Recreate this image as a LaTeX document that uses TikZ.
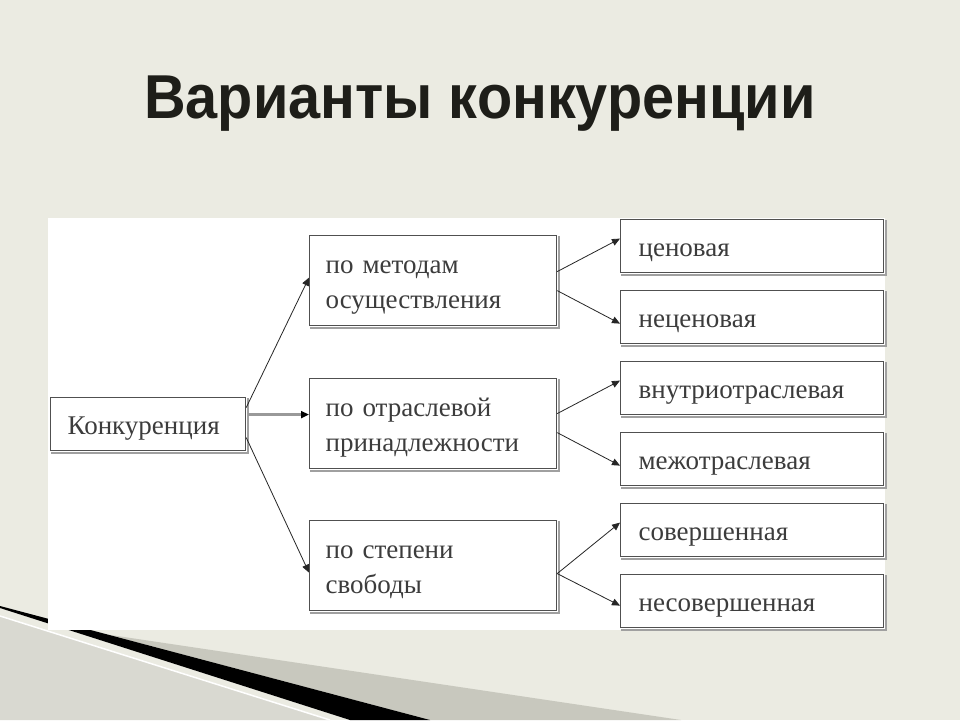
\documentclass[tikz,border=0pt]{standalone}
\usepackage{fontspec}
\usepackage{graphicx}
\setmainfont{Liberation Serif}
\newfontfamily\titlefont{Liberation Sans}
\usetikzlibrary{arrows.meta}
\definecolor{bgc}{HTML}{EBEBE2}
\definecolor{lightwedge}{HTML}{D9D9D1}
\definecolor{graywedge}{HTML}{C8C8BE}
\definecolor{titlec}{HTML}{1E1E19}
\definecolor{boxline}{HTML}{505050}
\definecolor{boxshadow}{HTML}{A0A0A0}
\definecolor{txt}{HTML}{3C3C3C}
\tikzset{
  box/.style={draw=boxline, line width=1.2pt, fill=white, inner ysep=0pt,
    font=\fontsize{27}{35}\selectfont, text=txt, align=left, anchor=north west,
    execute at begin node={\rule{0pt}{28pt}},
    execute at end node={\rule[-8pt]{0pt}{8pt}}},
  rbox/.style={box, minimum width=263pt, minimum height=53pt, inner xsep=18pt, text width=227pt},
  mbox/.style={box, minimum width=247pt, minimum height=90pt, inner xsep=16pt, text width=215pt},
  kbox/.style={box, minimum width=195pt, minimum height=53pt, inner xsep=17pt, text width=161pt},
  shadowline/.style={draw=boxshadow, line width=2.5pt},
  conn/.style={draw=black!85, line width=0.8pt, -{Triangle[length=8pt,width=7pt]}},
  thickconn/.style={draw=black!40, line width=2.5pt, -{Triangle[length=8pt,width=7pt,color=black,fill=black]}}
}
\begin{document}
\begin{tikzpicture}[x=1pt,y=-1pt]
\useasboundingbox (0,0) rectangle (960,720);
\fill[bgc] (0,0) rectangle (960,720);
% decoration bottom-left
\fill[lightwedge] (0,616) -- (330,720) -- (0,720) -- cycle;
\draw[white, line width=1.5pt] (0,616) -- (330,720);
\fill[graywedge] (108,634.6) -- (681,720) -- (430,720) -- cycle;
\fill[black] (0,606) -- (430,720) -- (350,720) -- (0,608) -- cycle;
% white panel
\fill[white] (48,218) rectangle (885,630);
% title
\node[font=\titlefont\bfseries\fontsize{62}{62}\selectfont, text=titlec, anchor=base] (title) at (480,118) {\scalebox{0.93}[1]{Варианты конкуренции}};
% boxes
\node[kbox] (k) at (50,397) {Конкуренция};
\node[mbox] (m1) at (309,235) {по методам\\осуществления};
\node[mbox] (m2) at (309,378) {по отраслевой\\принадлежности};
\node[mbox] (m3) at (309,520) {по степени\\свободы};
\node[rbox] (r1) at (620,219) {ценовая};
\node[rbox] (r2) at (620,290) {неценовая};
\node[rbox] (r3) at (620,361) {внутриотраслевая};
\node[rbox] (r4) at (620,432) {межотраслевая};
\node[rbox] (r5) at (620,503) {совершенная};
\node[rbox] (r6) at (620,574) {несовершенная};
\foreach \n in {k,m1,m2,m3,r1,r2,r3,r4,r5,r6}{
  \draw[shadowline] ([xshift=1pt,yshift=-1.6pt]\n.south west) -- ([xshift=1.6pt,yshift=-1.6pt]\n.south east) -- ([xshift=1.6pt,yshift=-1pt]\n.north east);
}
% connectors
\draw[conn] ([yshift=16.5pt]k.east) -- ([yshift=3pt]m1.west);
\draw[thickconn] ([xshift=2pt,yshift=9.5pt]k.east) -- ([yshift=9pt]m2.west);
\draw[conn] ([yshift=-13.5pt]k.east) -- ([yshift=-7pt]m3.west);
\draw[conn] ([yshift=9pt]m1.east) -- ([yshift=7.5pt]r1.west);
\draw[conn] ([yshift=-10pt]m1.east) -- ([yshift=-6.5pt]r2.west);
\draw[conn] ([yshift=10pt]m2.east) -- ([yshift=7.5pt]r3.west);
\draw[conn] ([yshift=-9pt]m2.east) -- ([yshift=-6.5pt]r4.west);
\draw[conn] ([yshift=-8pt]m3.east) -- ([yshift=7.5pt]r5.west);
\draw[conn] ([yshift=-8pt]m3.east) -- ([yshift=-4.5pt]r6.west);
\end{tikzpicture}
\end{document}
